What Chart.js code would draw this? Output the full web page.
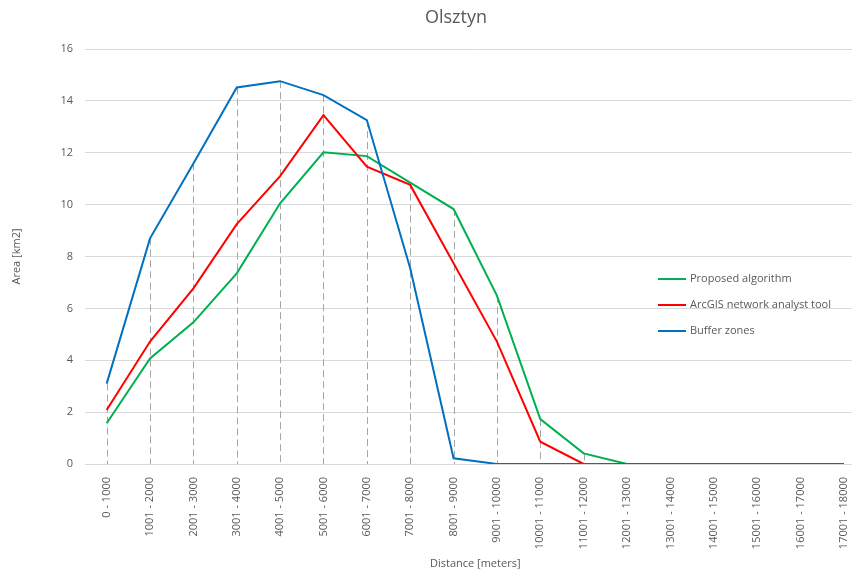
<!DOCTYPE html>
<html>
<head>
<meta charset="utf-8">
<script src="https://cdn.jsdelivr.net/npm/chart.js@4/dist/chart.umd.min.js"></script>
<style>
html, body { margin: 0; padding: 0; background: #fff; overflow: hidden; }
#wrap { width: 870px; height: 571px; position: relative; }
</style>
</head>
<body>
<div id="wrap"><canvas id="olsztynChart"></canvas></div>
<script>
//DATA
//distance ranges (meters)
const distances = ['0 - 1000', '1001 - 2000', '2001 - 3000', '3001 - 4000', '4001 - 5000',
    '5001 - 6000', '6001 - 7000', '7001 - 8000', '8001 - 9000', '9001 - 10000',
    '10001 - 11000', '11001 - 12000', '12001 - 13000', '13001 - 14000', '14001 - 15000',
    '15001 - 16000', '16001 - 17000', '17001 - 18000'];
//area in km2 for each range
const proposedData = [1.57, 4.07, 5.46, 7.35, 10.05, 12.02, 11.87, 10.85, 9.83, 6.49, 1.73, 0.41, 0, 0, 0, 0, 0, 0];
const arcgisData = [2.08, 4.72, 6.77, 9.25, 11.10, 13.45, 11.46, 10.76, 7.74, 4.72, 0.86, 0, 0, 0, 0, 0, 0, 0];
const bufferData = [3.10, 8.70, 11.59, 14.52, 14.76, 14.22, 13.26, 7.55, 0.22, 0, 0, 0, 0, 0, 0, 0, 0, 0];
const yTicks = [0, 2, 4, 6, 8, 10, 12, 14, 16];

const textGray = '#595959';
const fontFam = '"Open Sans", sans-serif';

//dashed drop lines from the highest series down to the axis
const dropLines = {
    id: 'dropLines',
    beforeDatasetsDraw(chart) {
        const {ctx, scales: {x, y}} = chart;
        ctx.save();
        ctx.strokeStyle = '#a6a6a6';
        ctx.lineWidth = 1;
        ctx.setLineDash([7, 4]);
        distances.forEach((d, i) => {
            const top = Math.max(...chart.data.datasets.map(ds => ds.data[i]));
            if (top <= 0) return;
            const px = Math.round(x.getPixelForValue(i)) + 0.5;
            ctx.beginPath();
            ctx.moveTo(px, y.getPixelForValue(top));
            ctx.lineTo(px, y.getPixelForValue(0));
            ctx.stroke();
        });
        ctx.restore();
    }
};

//title + legend placed like the original
const decor = {
    id: 'decor',
    afterDraw(chart) {
        const ctx = chart.ctx;
        ctx.save();
        ctx.fillStyle = textGray;
        ctx.font = '18px ' + fontFam;
        ctx.textAlign = 'center';
        ctx.textBaseline = 'middle';
        ctx.fillText('Olsztyn', 456, 18);

        ctx.font = '11px ' + fontFam;
        ctx.textAlign = 'left';
        const legendOrder = [2, 1, 0];
        legendOrder.forEach((di, row) => {
            const ds = chart.data.datasets[di];
            const ly = 279 + row * 26;
            ctx.strokeStyle = ds.borderColor;
            ctx.lineWidth = 2;
            ctx.beginPath();
            ctx.moveTo(658, ly);
            ctx.lineTo(686, ly);
            ctx.stroke();
            ctx.fillText(ds.label, 690, ly);
        });
        ctx.restore();
    }
};

const data = {
    labels: distances,
    datasets: [
        {label: 'Buffer zones', data: bufferData, borderColor: '#0070c0', order: 0},
        {label: 'ArcGIS network analyst tool', data: arcgisData, borderColor: '#ff0000', order: 1},
        {label: 'Proposed algorithm', data: proposedData, borderColor: '#00b050', order: 2}
    ].map(ds => Object.assign(ds, {borderWidth: 2, pointRadius: 0, tension: 0, fill: false}))
};

const options = {
    responsive: true,
    maintainAspectRatio: false,
    animation: false,
    layout: {padding: {top: 49, right: 0, left: 0, bottom: 0}},
    plugins: {
        legend: {display: false},
        title: {display: false},
        tooltip: {enabled: false}
    },
    scales: {
        x: {
            offset: true,
            grid: {display: false, drawTicks: false},
            border: {display: true, color: '#d9d9d9'},
            ticks: {
                color: textGray, font: {family: fontFam, size: 11},
                minRotation: 90, maxRotation: 90, padding: 13, autoSkip: false
            },
            title: {display: true, text: 'Distance [meters]', color: textGray,
                font: {family: fontFam, size: 11}, padding: {top: 4, bottom: 1}},
            afterFit(scale) { scale.height = 107; }
        },
        y: {
            min: 0, max: 16,
            afterBuildTicks(scale) { scale.ticks = yTicks.map(v => ({value: v})); },
            grid: {color: '#d9d9d9', drawTicks: false},
            border: {display: false},
            ticks: {color: textGray, font: {family: fontFam, size: 11}, padding: 12},
            title: {display: true, text: 'Area [km2]', color: textGray,
                font: {family: fontFam, size: 11}, padding: {top: 10, bottom: 4}},
            afterFit(scale) { scale.width = 85; }
        }
    }
};

const olsztynChart = new Chart(
    document.getElementById('olsztynChart').getContext('2d'),
    {type: 'line', data: data, options: options, plugins: [dropLines, decor]}
);
</script>
</body>
</html>
